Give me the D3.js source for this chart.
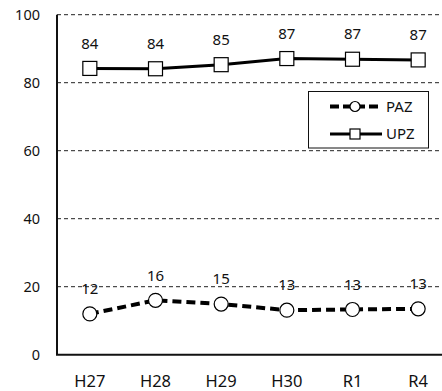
<!DOCTYPE html>
<html>
<head>
<meta charset="utf-8">
<script src="https://cdn.jsdelivr.net/npm/d3@7"></script>
<style>
  body { margin: 0; background: #fff; }
  svg { display: block; }
</style>
</head>
<body>
<script>
const width = 442
const height = 391
const years = ['H27', 'H28', 'H29', 'H30', 'R1', 'R4']
const paz = [12.0, 16.0, 14.9, 13.1, 13.3, 13.5]
const upz = [84.2, 84.1, 85.3, 87.1, 86.9, 86.7]
const pazLabels = ['12', '16', '15', '13', '13', '13']
const upzLabels = ['84', '84', '85', '87', '87', '87']
const yTicks = [0, 20, 40, 60, 80, 100]

const font = "'Noto Sans', 'Open Sans', sans-serif"
const margin = { left: 57, top: 14.7, bottom: 36.3 }
const plotRight = 451

const svg = d3.select('body')
  .append('svg')
  .attr('width', width)
  .attr('height', height)

const x = d3.scaleBand()
  .domain(years)
  .range([margin.left, plotRight])

const y = d3.scaleLinear()
  .domain([0, 100])
  .range([height - margin.bottom, margin.top])

// dashed gridlines
svg.selectAll('line.grid')
  .data(yTicks.filter(d => d > 0))
  .enter()
  .append('line')
  .attr('class', 'grid')
  .attr('x1', margin.left)
  .attr('x2', width)
  .attr('y1', d => y(d))
  .attr('y2', d => y(d))
  .attr('stroke', '#222')
  .attr('stroke-width', 1)
  .attr('stroke-dasharray', '4,3')

// axes lines
svg.append('line')
  .attr('x1', margin.left).attr('x2', margin.left)
  .attr('y1', y(100)).attr('y2', y(0))
  .attr('stroke', '#111').attr('stroke-width', 2)
svg.append('line')
  .attr('x1', margin.left - 1).attr('x2', width)
  .attr('y1', y(0)).attr('y2', y(0))
  .attr('stroke', '#111').attr('stroke-width', 2)

// y tick labels
svg.selectAll('text.ytick')
  .data(yTicks)
  .enter()
  .append('text')
  .attr('class', 'ytick')
  .text(d => d)
  .attr('x', 40)
  .attr('y', d => y(d))
  .attr('dy', '0.35em')
  .attr('text-anchor', 'end')
  .attr('font-family', font)
  .attr('font-size', '14.5px')
  .attr('fill', '#111')

// x tick labels
svg.selectAll('text.xtick')
  .data(years)
  .enter()
  .append('text')
  .attr('class', 'xtick')
  .text(d => d)
  .attr('x', d => x(d) + x.bandwidth() / 2)
  .attr('y', 386.5)
  .attr('text-anchor', 'middle')
  .attr('font-family', font)
  .attr('font-size', '16.5px')
  .attr('fill', '#111')

const cx = d => x(d) + x.bandwidth() / 2
const line = d3.line()
  .x(d => cx(d.year))
  .y(d => y(d.value))

const pazData = years.map((yr, i) => ({ year: yr, value: paz[i], label: pazLabels[i] }))
const upzData = years.map((yr, i) => ({ year: yr, value: upz[i], label: upzLabels[i] }))

// PAZ line
svg.append('path')
  .datum(pazData)
  .attr('d', line)
  .attr('fill', 'none')
  .attr('stroke', '#000')
  .attr('stroke-width', 4)
  .attr('stroke-dasharray', '9,5')

svg.selectAll('circle.paz')
  .data(pazData)
  .enter()
  .append('circle')
  .attr('class', 'paz')
  .attr('cx', d => cx(d.year))
  .attr('cy', d => y(d.value))
  .attr('r', 7)
  .attr('fill', '#fff')
  .attr('stroke', '#000')
  .attr('stroke-width', 1.2)

// UPZ line
svg.append('path')
  .datum(upzData)
  .attr('d', line)
  .attr('fill', 'none')
  .attr('stroke', '#000')
  .attr('stroke-width', 3)

svg.selectAll('rect.upz')
  .data(upzData)
  .enter()
  .append('rect')
  .attr('class', 'upz')
  .attr('x', d => cx(d.year) - 7)
  .attr('y', d => y(d.value) - 7)
  .attr('width', 14)
  .attr('height', 14)
  .attr('fill', '#fff')
  .attr('stroke', '#000')
  .attr('stroke-width', 1.2)

// data labels
svg.selectAll('text.lbl')
  .data(pazData.concat(upzData))
  .enter()
  .append('text')
  .attr('class', 'lbl')
  .text(d => d.label)
  .attr('x', d => cx(d.year))
  .attr('y', d => y(d.value) - 25)
  .attr('dy', '0.35em')
  .attr('text-anchor', 'middle')
  .attr('font-family', font)
  .attr('font-size', '15px')
  .attr('fill', '#111')

// legend
svg.append('rect')
  .attr('x', 308.5).attr('y', 91.5)
  .attr('width', 120).attr('height', 56.5)
  .attr('fill', '#fff')
  .attr('stroke', '#111')
  .attr('stroke-width', 1)

const legendItems = [
  { name: 'PAZ', dash: '9,4', width: 4, shape: 'circle', ly: 106.5 },
  { name: 'UPZ', dash: null, width: 3, shape: 'rect', ly: 134 }
]
legendItems.forEach(function (item) {
  svg.append('line')
    .attr('x1', 330).attr('x2', 382)
    .attr('y1', item.ly).attr('y2', item.ly)
    .attr('stroke', '#000')
    .attr('stroke-width', item.width)
    .attr('stroke-dasharray', item.dash)
  if (item.shape === 'circle') {
    svg.append('circle')
      .attr('cx', 355).attr('cy', item.ly).attr('r', 5)
      .attr('fill', '#fff').attr('stroke', '#000').attr('stroke-width', 1.2)
  } else {
    svg.append('rect')
      .attr('x', 350).attr('y', item.ly - 5).attr('width', 10).attr('height', 10)
      .attr('fill', '#fff').attr('stroke', '#000').attr('stroke-width', 1.2)
  }
  svg.append('text')
    .text(item.name)
    .attr('x', 386)
    .attr('y', item.ly)
    .attr('dy', '0.35em')
    .attr('font-family', font)
    .attr('font-size', '15px')
    .attr('fill', '#111')
})
</script>
</body>
</html>
